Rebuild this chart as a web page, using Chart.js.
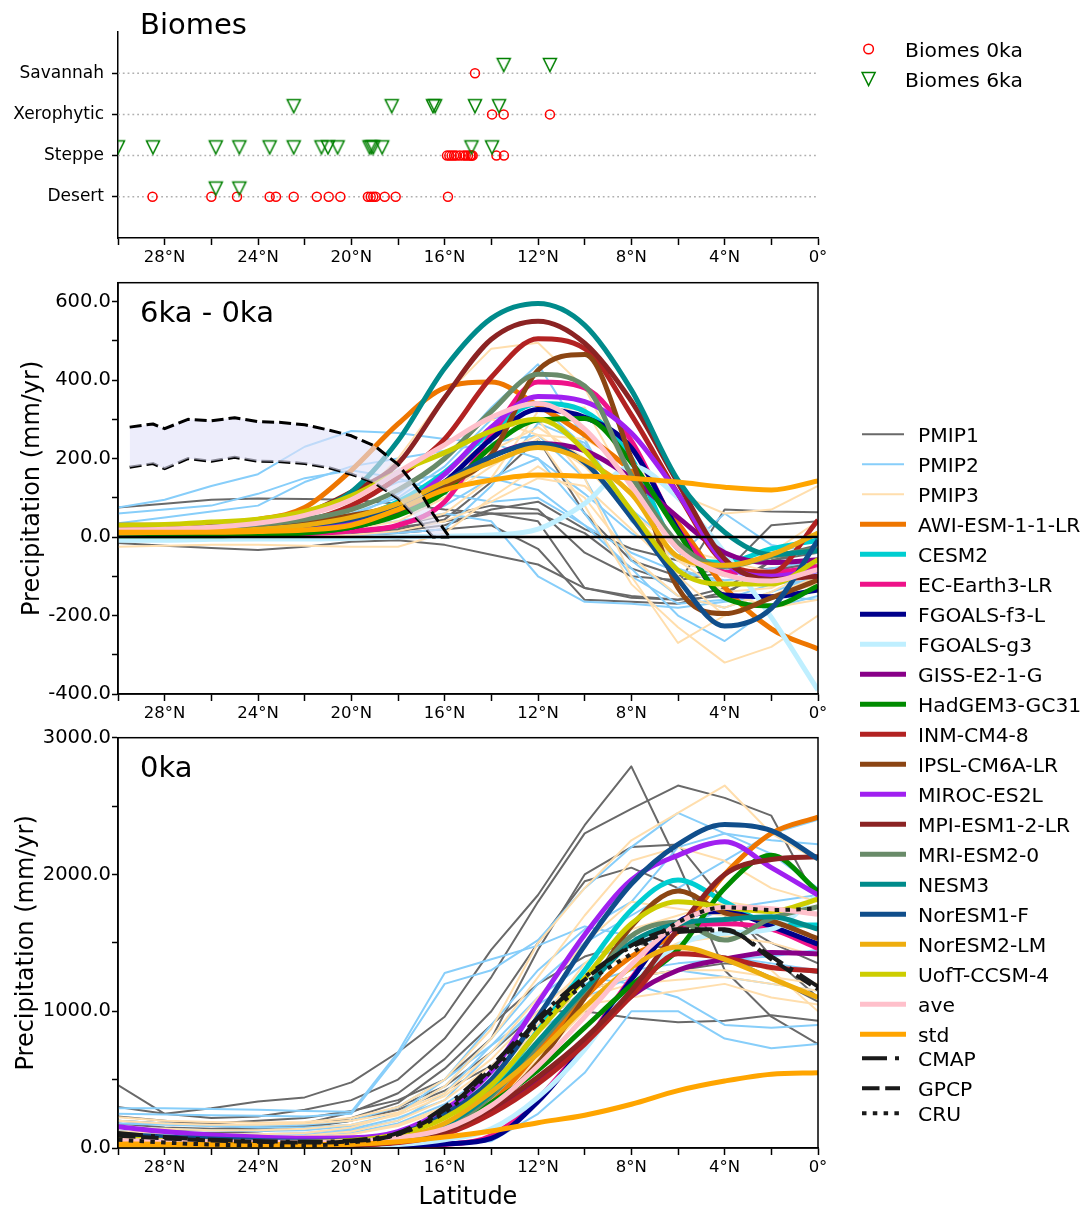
<!DOCTYPE html>
<html><head><meta charset="utf-8">
<script src="https://cdn.jsdelivr.net/npm/chart.js@4.4.0/dist/chart.umd.min.js"></script>
<style>
html,body{margin:0;padding:0;background:#fff;}
#wrap{position:relative;width:1088px;height:1210px;font-family:"DejaVu Sans",sans-serif;color:#000;overflow:hidden;background:#fff}
canvas{position:absolute;left:0}
.ptitle{position:absolute;font-size:29px;line-height:1;white-space:nowrap}
.leg{position:absolute;font-size:20.3px;line-height:1;white-space:nowrap}
svg{position:absolute;left:0;top:0}
</style></head><body><div id="wrap">
<canvas id="c1" width="840" height="270" style="top:0px"></canvas>
<canvas id="c2" width="840" height="460" style="top:270px"></canvas>
<canvas id="c3" width="840" height="485" style="top:725px"></canvas>
<div class="ptitle" style="left:140px;top:10px">Biomes</div>
<div class="ptitle" style="left:140px;top:298px">6ka - 0ka</div>
<div class="ptitle" style="left:140px;top:753px">0ka</div>
</div>
<script>
// ---------------- DATA ----------------
const LAT = [30,28,26,24,22,20,18,16,14,12,10,8,6,4,2,0];
const X_TICKS = [0,2,4,6,8,10,12,14,16,18,20,22,24,26,28,30];
const Y6_TICKS = [-400,-300,-200,-100,0,100,200,300,400,500,600];
const Y0_TICKS = [0,500,1000,1500,2000,2500,3000];
const BIOME_NAMES = ['Desert','Steppe','Xerophytic','Savannah'];

// Biome sites (latitude), 0ka
const B0_DESERT = [28.52,26.0,24.9,23.5,23.23,22.47,21.48,20.97,20.47,19.29,19.17,19.06,18.96,18.57,18.1,15.86];
const B0_STEPPE = [15.9,15.8,15.7,15.6,15.5,15.35,15.2,15.1,15.0,14.9,14.85,14.8,13.78,13.46];
const B0_XERO = [13.97,13.47,11.49];
const B0_SAV = [14.7];
// Biome sites (latitude), 6ka
const B6_DESERT = [25.81,24.8];
const B6_STEPPE = [30.0,28.5,25.81,24.8,23.5,22.47,21.28,21.0,20.59,19.22,19.14,19.06,18.68,14.85,13.97];
const B6_XERO = [22.47,18.27,16.5,16.41,14.7,13.67];
const B6_SAV = [13.47,11.49];

// Pollen-based reconstruction range (6ka - 0ka)
const REC_LAT = [29.5,28.5,28,27,26,25,24,23,22,21,20,19,18,17,16.5,15.8];
const REC_UP  = [280,288,276,300,296,304,294,292,286,273,258,232,185,110,59,0];
const REC_LO  = [178,187,174,200,193,203,193,192,187,177,160,138,98,35,0,0];
const ZERO_LAT = [30,0];
const ZERO_VAL = [0,0];

// PMIP ensembles, 6ka - 0ka
const PMIP1_6K = [
 [75,85,95,98,97,95,85,70,60,60,10,-80,-120,70,65,63],
 [-15,-22,-28,-33,-25,-12,-8,-20,-45,-70,-130,-150,-160,-130,-60,-40],
 [20,20,18,15,12,15,30,55,80,70,-40,-100,-110,-90,30,40],
 [5,5,5,5,5,8,20,45,140,250,60,-60,-100,-80,-50,-20],
 [10,10,10,10,10,12,25,40,60,40,-130,-155,-160,-150,-60,-30],
 [0,0,0,0,2,5,15,30,70,90,20,-30,-60,-90,-80,-70],
 [-5,-5,-5,-5,-3,0,10,20,30,-30,-160,-165,-170,-140,-90,-60]];
const PMIP2_6K = [
 [75,95,130,160,230,270,265,250,240,200,60,-100,-170,-160,-120,-90],
 [35,50,65,80,140,180,200,220,240,260,150,-60,-150,-180,-140,-100],
 [10,10,12,15,25,50,110,200,330,440,250,40,-60,-100,-80,-60],
 [20,25,30,40,60,90,140,160,150,120,30,-80,-200,-265,-180,-150],
 [5,5,8,10,15,25,40,60,40,-100,-165,-170,-180,-165,-150,-160],
 [15,20,25,30,40,60,100,180,300,340,230,50,-80,-120,-120,-110],
 [5,5,5,5,8,12,30,80,150,200,110,10,-50,60,-20,-40],
 [60,70,80,110,150,170,150,110,90,100,30,-40,-90,-110,-100,-80],
 [0,0,0,0,2,5,10,20,130,290,240,70,-30,-80,-100,-130]];
const PMIP3_6K = [
 [10,12,15,20,35,80,200,360,480,495,380,150,-100,-200,-150,-100],
 [5,5,5,8,12,20,40,100,180,250,80,-120,-230,-320,-280,-200],
 [-25,-22,-20,-20,-22,-25,-25,10,100,180,100,-50,-150,-180,-140,-80],
 [10,10,12,15,20,35,60,100,200,260,250,180,110,60,70,130],
 [15,15,18,22,30,50,90,160,250,300,150,-100,-270,-200,-150,-120],
 [20,20,22,25,30,40,70,140,220,280,200,60,-60,-100,-40,40],
 [5,5,5,5,8,15,30,60,150,320,330,120,-60,-140,-130,-70],
 [25,28,32,40,55,90,150,240,300,260,180,60,-30,-60,-90,-100],
 [0,0,0,0,2,5,15,40,90,150,130,20,-90,-140,-180,-160]];

// CMIP6 / PMIP4, 6ka - 0ka (mm/yr)
const DIFF_AWI   = [25,28,35,45,75,170,288,380,395,335,260,168,35,-128,-234,-285];
const DIFF_CESM2 = [10,10,12,15,25,45,90,165,270,340,320,200,-30,-65,-30,-8];
const DIFF_EC    = [5,5,5,5,8,15,30,90,260,395,380,245,20,-90,-90,-75];
const DIFF_FGF3  = [8,8,8,10,15,25,60,140,250,325,305,227,18,-148,-152,-135];
const DIFF_FGG3  = [-8,-8,-6,-5,-5,-3,0,2,5,20,85,180,100,-40,-205,-390];
const DIFF_GISS  = [5,5,5,8,12,25,60,125,205,238,220,150,50,-40,-65,-58];
const DIFF_HAD   = [3,3,3,5,10,25,55,115,230,298,302,190,13,-155,-175,-125];
const DIFF_INM   = [20,20,22,25,40,80,152,250,407,505,480,311,110,-65,-90,43];
const DIFF_IPSL  = [30,30,32,35,40,55,80,130,210,425,465,200,-130,-195,-155,-110];
const DIFF_MIROC = [20,20,20,22,25,40,75,160,280,358,345,265,110,-65,-100,-85];
const DIFF_MPI   = [25,28,32,40,60,115,187,355,504,550,494,346,138,-56,-108,-100];
const DIFF_MRI   = [15,18,22,30,45,70,120,200,320,415,385,157,-15,-75,-50,-30];
const DIFF_NESM3 = [15,18,25,35,60,115,245,430,557,595,540,375,145,12,-45,-35];
const DIFF_NOR1  = [10,12,15,20,30,45,80,140,205,238,190,50,-108,-227,-182,-8];
const DIFF_NOR2  = [10,12,15,20,30,50,85,140,190,228,195,110,-50,-72,-45,10];
const DIFF_UOFT  = [30,32,38,45,65,105,165,215,270,300,220,67,-85,-120,-120,-58];
const DIFF_AVE   = [18,20,25,35,55,95,165,235,305,340,275,131,-30,-95,-112,-83];
const DIFF_STD   = [12,12,12,14,18,30,70,120,145,158,155,150,140,127,120,143];

// PMIP ensembles, 0ka
const PMIP1_0K = [
 [460,250,290,340,370,480,700,960,1450,1850,2360,2790,2080,1300,960,760],
 [300,250,220,230,280,350,500,800,1250,1800,2300,2480,2650,2560,2430,1800],
 [200,180,180,200,220,270,350,500,800,1450,2000,2200,2220,1800,1400,1100],
 [150,130,130,140,160,200,300,450,700,1000,1000,950,920,930,970,930],
 [230,200,170,150,160,220,330,580,900,1200,1400,1500,1450,1400,1250,1070],
 [120,110,110,120,150,200,280,420,600,900,1150,1250,1300,1350,1320,1280],
 [180,150,140,150,180,260,400,650,1000,1500,1950,2050,1900,1700,1500,1350]];
const PMIP2_0K = [
 [290,290,285,280,270,265,700,1280,1380,1480,1620,1550,1450,1400,1350,1300],
 [250,245,240,235,230,250,680,1200,1300,1520,1900,2200,2450,2300,2150,1900],
 [60,50,40,35,30,30,30,30,50,250,550,1000,1000,800,730,760],
 [200,180,160,150,150,170,250,450,800,1200,1500,1700,1900,2100,2300,2400],
 [150,140,130,125,130,160,250,500,900,1300,1600,1800,2200,2300,2250,2220],
 [120,110,100,100,110,140,220,350,700,1050,1250,1200,1100,900,880,900],
 [180,170,160,160,170,200,300,500,750,1000,1200,1300,1350,1380,1400,1450],
 [100,90,85,85,95,130,200,400,750,1100,1350,1500,1600,1750,1800,1850],
 [80,75,70,70,80,110,180,320,550,850,1100,1250,1300,1250,1200,1150]];
const PMIP3_0K = [
 [225,200,190,185,190,220,300,500,870,1500,1900,2250,2450,2650,2300,2100],
 [200,180,170,170,180,200,260,400,700,1100,1500,1800,1750,1700,1650,1600],
 [100,90,80,80,90,120,200,350,600,900,1150,1250,1300,1300,1250,1200],
 [60,55,50,50,55,70,100,150,300,650,1000,1350,1500,1550,1500,1400],
 [150,140,130,130,140,170,240,380,650,1000,1300,1400,1450,1400,1300,1000],
 [80,75,70,70,80,100,160,280,450,800,1100,1200,1230,1250,1200,1150],
 [120,110,100,100,110,150,250,450,800,1250,1700,2100,2200,2100,1900,1800],
 [40,35,30,30,35,50,90,200,500,900,1350,1600,1700,1800,1750,1700],
 [70,65,60,60,70,100,170,300,550,850,1050,1100,1150,1200,1100,1050]];

// CMIP6 / PMIP4, 0ka (mm/yr)
const PI_AWI   = [40,35,30,25,25,30,60,130,330,700,1100,1400,1580,2000,2300,2420];
const PI_CESM2 = [25,22,20,20,22,30,65,170,420,860,1300,1740,1960,1800,1640,1630];
const PI_EC    = [5,5,5,5,5,5,10,25,90,360,760,1240,1620,1640,1600,1460];
const PI_FGF3  = [10,8,6,5,5,8,15,30,70,340,750,1230,1650,1730,1620,1490];
const PI_FGG3  = [15,12,10,10,10,12,25,60,140,370,720,1180,1480,1570,1600,1850];
const PI_GISS  = [20,18,16,15,15,20,45,110,260,500,790,1110,1300,1380,1430,1420];
const PI_HAD   = [10,10,10,10,12,20,50,140,330,570,880,1190,1450,1900,2140,1875];
const PI_INM   = [12,12,12,12,12,20,40,100,250,470,760,1110,1420,1390,1320,1295];
const PI_IPSL  = [25,22,20,20,20,25,50,120,300,620,1100,1620,1880,1720,1660,1530];
const PI_MIROC = [155,120,95,80,72,75,120,280,560,1060,1560,1960,2140,2240,2050,1850];
const PI_MPI   = [15,15,15,15,15,20,45,120,290,520,800,1150,1600,2000,2110,2130];
const PI_MRI   = [25,22,20,20,20,30,60,150,380,750,1150,1550,1650,1520,1680,1765];
const PI_NESM3 = [30,25,22,20,22,32,70,170,400,780,1160,1500,1640,1670,1690,1600];
const PI_NOR1  = [100,80,65,55,50,55,100,245,500,960,1480,1930,2220,2365,2320,2115];
const PI_NOR2  = [20,18,16,15,18,30,70,180,410,690,1030,1320,1470,1380,1240,1100];
const PI_UOFT  = [70,55,45,40,40,55,100,220,460,850,1240,1640,1800,1760,1730,1820];
const PI_AVE   = [55,50,45,42,42,48,75,140,310,600,960,1340,1640,1760,1750,1710];
const PI_STD   = [30,28,25,25,25,28,45,80,125,185,240,320,420,490,540,550];
// Observations, 0ka
const OBS_CMAP = [110,80,60,50,45,55,110,300,600,950,1250,1470,1580,1590,1400,1180];
const OBS_GPCP = [90,70,55,45,40,50,100,280,580,930,1230,1480,1600,1600,1380,1160];
const OBS_CRU  = [60,40,25,20,18,40,100,260,560,900,1200,1420,1650,1760,1740,1750];

const MODEL_NAMES = ['AWI-ESM-1-1-LR','CESM2','EC-Earth3-LR','FGOALS-f3-L','FGOALS-g3','GISS-E2-1-G','HadGEM3-GC31','INM-CM4-8','IPSL-CM6A-LR','MIROC-ES2L','MPI-ESM1-2-LR','MRI-ESM2-0','NESM3','NorESM1-F','NorESM2-LM','UofT-CCSM-4','ave','std'];
const DIFF_SERIES = [DIFF_AWI,DIFF_CESM2,DIFF_EC,DIFF_FGF3,DIFF_FGG3,DIFF_GISS,DIFF_HAD,DIFF_INM,DIFF_IPSL,DIFF_MIROC,DIFF_MPI,DIFF_MRI,DIFF_NESM3,DIFF_NOR1,DIFF_NOR2,DIFF_UOFT,DIFF_AVE,DIFF_STD];
const PI_SERIES = [PI_AWI,PI_CESM2,PI_EC,PI_FGF3,PI_FGG3,PI_GISS,PI_HAD,PI_INM,PI_IPSL,PI_MIROC,PI_MPI,PI_MRI,PI_NESM3,PI_NOR1,PI_NOR2,PI_UOFT,PI_AVE,PI_STD];
const OBS_NAMES = ['CMAP','GPCP','CRU'];
const OBS_SERIES = [OBS_CMAP,OBS_GPCP,OBS_CRU];

// ---------------- STYLE ----------------
const FONT = '"DejaVu Sans", sans-serif';
const MODEL_COLORS = ['#EE7600','#00CED1','#EE1289','#00008B','#BFEFFF','#880088','#008B00','#B22222','#8B4513','#A020F0','#8B2323','#698B69','#008B8B','#104E8B','#EEAD0E','#CDCD00','#FFC0CB','#FFA500'];
const PMIP_COLORS = ['#696969','#87CEFA','#FFDEAD'];
const OBS_COLOR = '#1a1a1a';
const OBS_DASH = [[25,8,4,8],[17.5,5.7],[4.5,6.3]];
const THICK = 5, THIN = 2;
const B6_YSHIFT = 0.2;

Chart.defaults.font.family = FONT;
Chart.defaults.color = '#000';

function mkLine(lat, vals, color, width, extra) {
  return Object.assign({
    data: lat.map((x, i) => ({x: x, y: vals[i]})),
    borderColor: color, backgroundColor: color, borderWidth: width,
    pointRadius: 0, pointHoverRadius: 0, fill: false, tension: 0,
    borderCapStyle: 'butt', borderJoinStyle: 'round'
  }, extra || {});
}
const SMOOTH = {cubicInterpolationMode: 'monotone'};

function xAxis(h, withTitle) {
  return {
    type: 'linear', min: 0, max: 30, reverse: true,
    afterBuildTicks: s => { s.ticks = X_TICKS.map(v => ({value: v})); },
    ticks: {callback: v => v === 0 ? '0°' : (v % 4 === 0 ? v + '°N' : ''), font: {size: 16.5}, color: '#000', padding: 3, maxRotation: 0, autoSkip: false},
    grid: {drawOnChartArea: false, drawTicks: true, tickLength: 7, tickColor: '#000', tickWidth: 1.5},
    border: {color: '#000', width: 1.5},
    title: {display: !!withTitle, text: 'Latitude', font: {size: 24, lineHeight: 1}, color: '#000', padding: {top: 0, bottom: 0}},
    afterFit: s => { s.height = h; }
  };
}
function yAxis(min, max, ticks, cb, fsize, pad, titlePad) {
  return {
    type: 'linear', min: min, max: max,
    afterBuildTicks: s => { s.ticks = ticks.map(v => ({value: v})); },
    ticks: {callback: cb, font: {size: fsize}, color: '#000', padding: pad, autoSkip: false},
    grid: {drawOnChartArea: false, drawTicks: true, tickLength: 6, tickColor: '#000', tickWidth: 1.5},
    border: {color: '#000', width: 1.5},
    title: {display: titlePad !== null, text: 'Precipitation (mm/yr)', font: {size: 24, lineHeight: 1}, color: '#000', padding: {top: titlePad || 0, bottom: 0}},
    afterFit: s => { s.width = 118; }
  };
}
const frame = {id: 'frame', afterDraw(c) {
  const {ctx, chartArea: a} = c; ctx.save(); ctx.strokeStyle = '#000'; ctx.lineWidth = 1.5;
  ctx.strokeRect(a.left, a.top, a.right - a.left, a.bottom - a.top); ctx.restore();
}};
function orderize(ds) { ds.forEach((d, i) => { d.order = ds.length - i; }); return ds; }
function makeChart(id, datasets, yOpt, xH, padTop, xTitle, box) {
  return new Chart(document.getElementById(id), {
    type: 'line', data: {datasets: orderize(datasets)},
    options: {
      responsive: false, animation: false, devicePixelRatio: 1, events: [],
      layout: {padding: {top: padTop, right: 22, left: 0, bottom: 0}},
      plugins: {legend: {display: false}, tooltip: {enabled: false}},
      scales: {x: xAxis(xH, xTitle), y: yOpt}
    },
    plugins: box ? [frame] : []
  });
}

// triangle marker
function makeTri() {
  const c = document.createElement('canvas'); c.width = 18; c.height = 18;
  const g = c.getContext('2d'); g.strokeStyle = '#008000'; g.lineWidth = 1.5;
  g.beginPath(); g.moveTo(2.5, 2.5); g.lineTo(15.5, 2.5); g.lineTo(9, 15.5); g.closePath(); g.stroke();
  return c;
}
const TRI = makeTri();

// ---------------- PANEL 1: Biomes ----------------
(function () {
  const ds = [];
  BIOME_NAMES.forEach((n, k) => ds.push(mkLine([30, 0], [k, k], '#b0b0b0', 1.5, {borderDash: [1.8, 3]})));
  const b0 = [B0_DESERT, B0_STEPPE, B0_XERO, B0_SAV];
  const b6 = [B6_DESERT, B6_STEPPE, B6_XERO, B6_SAV];
  b0.forEach((arr, k) => ds.push({data: arr.map(x => ({x: x, y: k})), showLine: false, pointStyle: 'circle', pointRadius: 4.5,
    pointBorderWidth: 1.5, pointBorderColor: '#FF0000', pointBackgroundColor: 'rgba(0,0,0,0)', borderColor: '#FF0000', backgroundColor: 'rgba(0,0,0,0)', clip: 0}));
  b6.forEach((arr, k) => ds.push({data: arr.map(x => ({x: x, y: k + B6_YSHIFT})), showLine: false, pointStyle: TRI, pointRadius: 7,
    pointBorderWidth: 0, borderColor: '#008000', backgroundColor: 'rgba(0,0,0,0)', clip: 0}));
  makeChart('c1', ds, yAxis(-1, 4, [0, 1, 2, 3], v => BIOME_NAMES[v], 17, 8, null), 270 - 238, 32, false, false);
})();

// ---------------- PANEL 2: 6ka - 0ka ----------------
(function () {
  const ds = [];
  [PMIP1_6K, PMIP2_6K, PMIP3_6K].forEach((grp, g) => grp.forEach(v => ds.push(mkLine(LAT, v, PMIP_COLORS[g], THIN))));
  DIFF_SERIES.forEach((v, i) => ds.push(mkLine(LAT, v, MODEL_COLORS[i], THICK, SMOOTH)));
  const loIdx = ds.length;
  ds.push(mkLine(REC_LAT, REC_LO, '#000', 3, {borderDash: [12, 5]}));
  ds.push(mkLine(REC_LAT, REC_UP, '#000', 3, {borderDash: [12, 5], fill: {target: loIdx}, backgroundColor: 'rgba(226,226,248,0.62)'}));
  ds.push(mkLine(ZERO_LAT, ZERO_VAL, '#000', 2.5));
  makeChart('c2', ds, yAxis(-400, 648, Y6_TICKS, v => (v % 200 === 0 ? v.toFixed(1) : ''), 19.5, 1, 21), 460 - 424, 11, false, true);
})();

// ---------------- PANEL 3: 0ka ----------------
(function () {
  const ds = [];
  [PMIP1_0K, PMIP2_0K, PMIP3_0K].forEach((grp, g) => grp.forEach(v => ds.push(mkLine(LAT, v, PMIP_COLORS[g], THIN))));
  PI_SERIES.forEach((v, i) => ds.push(mkLine(LAT, v, MODEL_COLORS[i], THICK, SMOOTH)));
  OBS_SERIES.forEach((v, i) => ds.push(mkLine(LAT, v, OBS_COLOR, 4, Object.assign({borderDash: OBS_DASH[i]}, SMOOTH))));
  makeChart('c3', ds, yAxis(0, 3000, Y0_TICKS, v => (v % 1000 === 0 ? v.toFixed(1) : ''), 19.5, 1, 15), 485 - 423, 10, true, true);
})();

// ---------------- LEGENDS ----------------
(function () {
  const wrap = document.getElementById('wrap');
  const NS = 'http://www.w3.org/2000/svg';
  const svg = document.createElementNS(NS, 'svg');
  svg.setAttribute('width', 1088); svg.setAttribute('height', 1210);
  wrap.appendChild(svg);
  function el(tag, attrs) { const e = document.createElementNS(NS, tag); for (const k in attrs) e.setAttribute(k, attrs[k]); svg.appendChild(e); return e; }
  function text(t, x, yc) { const d = document.createElement('div'); d.className = 'leg'; d.textContent = t; d.style.left = x + 'px'; d.style.top = (yc - 9.7) + 'px'; wrap.appendChild(d); }
  // biome legend
  el('circle', {cx: 868.6, cy: 49, r: 4.8, fill: 'none', stroke: '#FF0000', 'stroke-width': 1.5});
  el('polygon', {points: '862.1,72.5 875.1,72.5 868.6,85.5', fill: 'none', stroke: '#008000', 'stroke-width': 1.5});
  text('Biomes 0ka', 905, 49.2);
  text('Biomes 6ka', 905, 79.2);
  // main legend
  const rows = [];
  ['PMIP1', 'PMIP2', 'PMIP3'].forEach((n, i) => rows.push({n: n, c: PMIP_COLORS[i], w: THIN, thin: true}));
  MODEL_NAMES.forEach((n, i) => rows.push({n: n, c: MODEL_COLORS[i], w: THICK}));
  OBS_NAMES.forEach((n, i) => rows.push({n: n, c: OBS_COLOR, w: 4, dash: OBS_DASH[i].join(',')}));
  const ys = rows.map((r, i) => i <= 20 ? 434.3 + 30 * i : [1058.3, 1088.3, 1113.3][i - 21]);
  rows.forEach((r, i) => {
    const y = ys[i];
    const a = {x1: r.thin ? 862 : 860, x2: r.thin ? 904 : 906, y1: y, y2: y, stroke: r.c, 'stroke-width': r.w};
    if (r.dash) { a.x1 = 862; a.x2 = r.n === 'CMAP' ? 906 : 900; a['stroke-dasharray'] = r.dash; }
    el('line', a);
    text(r.n, 918, y);
  });
})();
</script></body></html>
